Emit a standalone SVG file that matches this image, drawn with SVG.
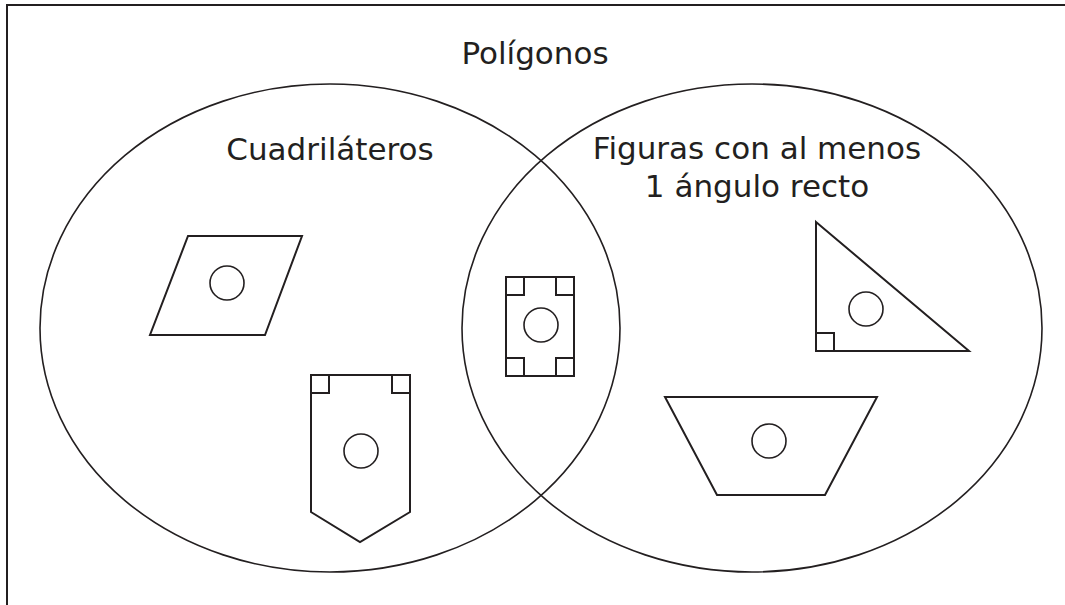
<svg xmlns="http://www.w3.org/2000/svg" width="1065" height="605" viewBox="0 0 1065 605">
<style>
.frame{fill:none;stroke:#231f20;stroke-width:2}
.set{fill:none;stroke:#231f20;stroke-width:1.6}
.shape{fill:none;stroke:#231f20;stroke-width:2;stroke-linejoin:miter}
.dot{fill:none;stroke:#231f20;stroke-width:1.6}
.lbl{font-family:"DejaVu Sans","Noto Sans",sans-serif;font-size:31px;fill:#231f20;text-anchor:middle}
</style>
<rect width="1065" height="605" fill="#ffffff"/>
<rect class="frame" x="7" y="5" width="1100" height="700"/>
<g id="title"><text class="lbl" x="535" y="64">Polígonos</text></g>
<g id="set-cuadrilateros">
  <ellipse class="set" cx="330" cy="328" rx="290" ry="244"/>
  <text class="lbl" x="330" y="160">Cuadriláteros</text>
</g>
<g id="set-angulo-recto">
  <ellipse class="set" cx="752" cy="328" rx="290" ry="244"/>
  <text class="lbl" x="757" y="159">Figuras con al menos</text>
  <text class="lbl" x="757" y="197">1 ángulo recto</text>
</g>
<g id="rombo">
  <polygon class="shape" points="188,236 302,236 265,335 150,335"/>
  <circle class="dot" cx="227" cy="283" r="17"/>
</g>
<g id="escudo">
  <polygon class="shape" points="311,375 410,375 410,512 360,542 311,512"/>
  <rect class="shape" x="311" y="375" width="18" height="18"/>
  <rect class="shape" x="392" y="375" width="18" height="18"/>
  <circle class="dot" cx="361" cy="451" r="17"/>
</g>
<g id="rectangulo">
  <rect class="shape" x="506" y="277" width="68" height="99"/>
  <rect class="shape" x="506" y="277" width="18" height="18"/>
  <rect class="shape" x="556" y="277" width="18" height="18"/>
  <rect class="shape" x="506" y="358" width="18" height="18"/>
  <rect class="shape" x="556" y="358" width="18" height="18"/>
  <circle class="dot" cx="541" cy="325" r="17"/>
</g>
<g id="triangulo">
  <polygon class="shape" points="816,222 969,351 816,351"/>
  <rect class="shape" x="816" y="333" width="18" height="18"/>
  <circle class="dot" cx="866" cy="309" r="17"/>
</g>
<g id="trapecio">
  <polygon class="shape" points="665,397 877,397 825,495 717,495"/>
  <circle class="dot" cx="769" cy="441" r="17"/>
</g>
<g id="connectors"></g>
</svg>
